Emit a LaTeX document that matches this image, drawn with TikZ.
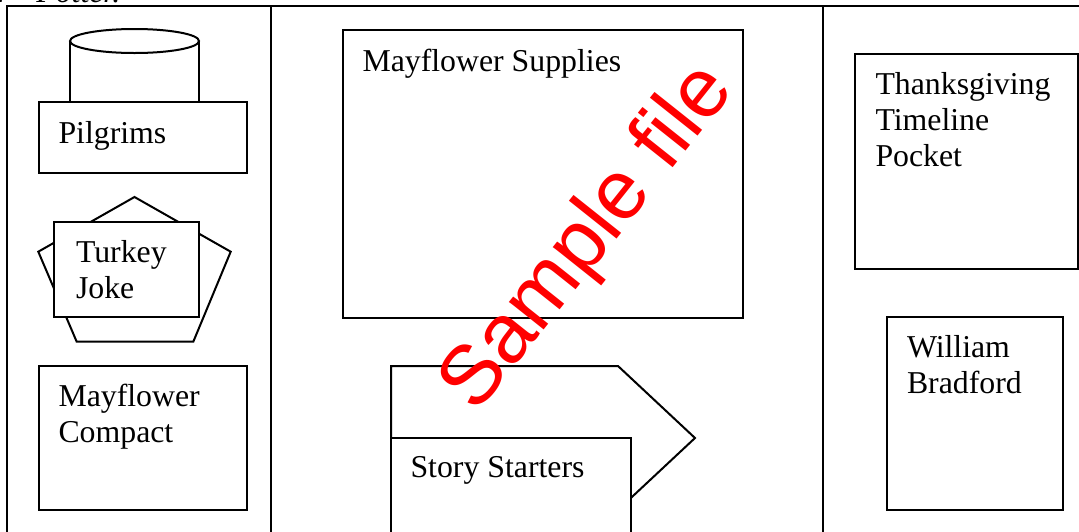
\documentclass[tikz,border=0pt]{standalone}
\usepackage{fontspec}
\setmainfont{Liberation Serif}
\newfontfamily\samplefont{Liberation Sans}

\tikzset{
    panel/.style={draw, fill=white},
    boxtext/.style={anchor=north west, inner sep=0, align=left, font=\fontsize{31.8}{36}\selectfont}
}

\begin{document}
\begin{tikzpicture}[x=1pt, y=-1pt, line width=2pt]
                \useasboundingbox (0,0) rectangle (1079,531);
                \clip (0,0) rectangle (1079,531);

                \node [anchor=base west, inner sep=0, font=\fontsize{31.8}{36}\selectfont\itshape] (head) at (-3,2.5) {r\hspace{26pt}Potter.};

                \draw [] (7,545) -- (7,6) -- (1090,6);
                \draw [] (271,6) -- (271,545);
                \draw [] (823,6) -- (823,545);

                % left column
                \draw [] (70,41) -- (70,102) (199,41) -- (199,102);
                \draw [] (134.5,41) ellipse [x radius=64.5, y radius=12];
                \draw [panel] (39,102) rectangle (247,173);
                \node [boxtext] (pilgrims) at (57.5,120) {Pilgrims};

                \draw [] (134.5,197) -- (230.7,251.7) -- (193.3,341.7) -- (76.7,341.7) -- (38.3,251.7) -- cycle;
                \draw [panel] (54.3,221.7) rectangle (199.3,317.3);
                \node [boxtext] (turkey) at (75,239.5) {Turkey\\Joke};

                \draw [panel] (39,366) rectangle (247,510);
                \node [boxtext] (compact) at (57.5,383.5) {Mayflower\\Compact};

                % middle column
                \draw [] (343,30) rectangle (743,318);
                \node [boxtext] (supplies) at (361.5,48.5) {Mayflower Supplies};

                \draw [] (391,510) -- (391,366) -- (618,366) -- (695,438) -- (618,510) -- cycle;
                \draw [panel] (391,438) rectangle (631,545);
                \node [boxtext] (story) at (409.5,455) {Story Starters};

                % right column
                \draw [] (855,54) rectangle (1077.7,269);
                \node [boxtext] (timeline) at (874.5,71.5) {Thanksgiving\\Timeline\\Pocket};

                \draw [] (887,317.3) rectangle (1062.7,510);
                \node [boxtext] (bradford) at (906,334) {William\\Bradford};

                \node [rotate=51.5, anchor=base west, inner sep=0, text=red, font=\samplefont\fontsize{84}{84}\selectfont] (sample) at (476,415.6) {Sample file};
\end{tikzpicture}
\end{document}
